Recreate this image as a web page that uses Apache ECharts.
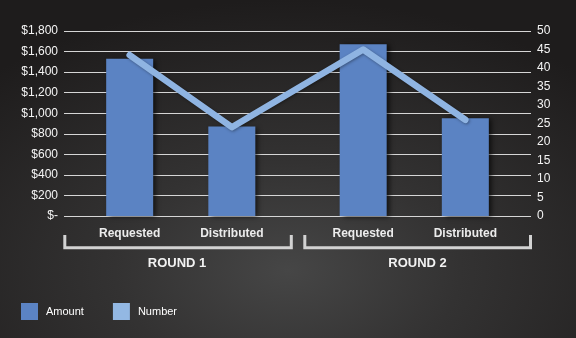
<!DOCTYPE html>
<html>
<head>
<meta charset="utf-8">
<script src="https://cdn.jsdelivr.net/npm/echarts@6/dist/echarts.min.js"></script>
<style>
  html, body { margin: 0; padding: 0; }
  #chart {
    width: 576px; height: 338px;
    background: radial-gradient(ellipse 75% 80% at 50% 80%, #464646 0%, #333232 40%, #1e1c1c 100%);
  }
</style>
</head>
<body>
<div id="chart"></div>
<script>
// ---- data ----
const categories = ['Requested', 'Distributed', 'Requested', 'Distributed'];
const amounts = [1530, 870, 1670, 950];
const numbers = [43.5, 24, 45, 26];
const roundLabels = ['ROUND 1', 'ROUND 2'];
const leftTicks = { min: 0, max: 1800, interval: 200 };
const rightTicks = { min: 0, max: 50, interval: 5 };

// ---- layout: categories placed on a fine slot axis so the round gap is wider ----
const slotCount = 32;
const slotPos = [4, 11, 20, 27];

const axisData = new Array(slotCount).fill('');
const amountData = new Array(slotCount).fill('-');
const numberData = new Array(slotCount).fill(null);
slotPos.forEach((p, i) => {
  axisData[p] = categories[i];
  amountData[p] = amounts[i];
  numberData[p] = numbers[i];
});

const FONT = 'Liberation Sans, Arial, Helvetica, sans-serif';
const chart = echarts.init(document.getElementById('chart'), null, { renderer: 'canvas' });

function fmtMoney(v) {
  if (v === 0) return '$-';
  return '$' + v.toLocaleString('en-US');
}

const bracketStyle = { stroke: '#d2d2d2', lineWidth: 3, fill: null };

chart.setOption({
  backgroundColor: 'transparent',
  animation: false,
  textStyle: { fontFamily: FONT },
  grid: { left: 64, right: 45, top: 31, bottom: 122, containLabel: false },
  legend: {
    left: 16, top: 298,
    itemWidth: 17, itemHeight: 17, itemGap: 29,
    icon: 'rect',
    data: ['Amount', 'Number'],
    textStyle: { color: '#ffffff', fontSize: 11, fontFamily: FONT, padding: [0, 0, 0, 3] }
  },
  xAxis: {
    type: 'category',
    data: axisData,
    boundaryGap: true,
    axisLine: { show: false },
    axisTick: { show: false },
    axisLabel: {
      interval: 0, color: '#ececec', fontSize: 12, fontWeight: 'bold',
      fontFamily: FONT, margin: 12
    },
    splitLine: { show: false }
  },
  yAxis: [
    {
      type: 'value', position: 'left',
      min: leftTicks.min, max: leftTicks.max, interval: leftTicks.interval,
      axisLine: { show: false }, axisTick: { show: false },
      axisLabel: { color: '#f4f4f4', fontSize: 12, fontFamily: FONT, margin: 6, formatter: fmtMoney },
      splitLine: { show: true, lineStyle: { color: '#d6d6d6', width: 1 } }
    },
    {
      type: 'value', position: 'right',
      min: rightTicks.min, max: rightTicks.max, interval: rightTicks.interval,
      axisLine: { show: false }, axisTick: { show: false },
      axisLabel: { color: '#f4f4f4', fontSize: 12, fontFamily: FONT, margin: 6 },
      splitLine: { show: false }
    }
  ],
  series: [
    {
      name: 'Amount', type: 'bar', yAxisIndex: 0,
      data: amountData, barWidth: 47,
      itemStyle: {
        color: '#5b83c3',
        shadowColor: 'rgba(0,0,0,0.65)', shadowBlur: 5, shadowOffsetX: 3, shadowOffsetY: 1
      },
      z: 2
    },
    {
      name: 'Number', type: 'line', yAxisIndex: 1,
      data: numberData, connectNulls: true,
      showSymbol: false, symbol: 'none',
      lineStyle: {
        color: '#8fb4e2', width: 6.5, cap: 'round', join: 'round',
        shadowColor: 'rgba(0,0,0,0.35)', shadowBlur: 3, shadowOffsetX: 1, shadowOffsetY: 1
      },
      itemStyle: { color: '#93b8e3' },
      z: 3
    }
  ],
  graphic: [
    { type: 'polyline', shape: { points: [[64.8, 235], [64.8, 247.8], [291.3, 247.8], [291.3, 235]] }, style: bracketStyle, silent: true },
    { type: 'polyline', shape: { points: [[304.8, 235], [304.8, 247.8], [530.5, 247.8], [530.5, 235]] }, style: bracketStyle, silent: true },
    { type: 'text', x: 177, y: 263, style: { text: roundLabels[0], fill: '#f2f2f2', font: 'bold 13px ' + FONT, textAlign: 'center', textVerticalAlign: 'middle' }, silent: true },
    { type: 'text', x: 417.5, y: 263, style: { text: roundLabels[1], fill: '#f2f2f2', font: 'bold 13px ' + FONT, textAlign: 'center', textVerticalAlign: 'middle' }, silent: true }
  ]
});
</script>
</body>
</html>
